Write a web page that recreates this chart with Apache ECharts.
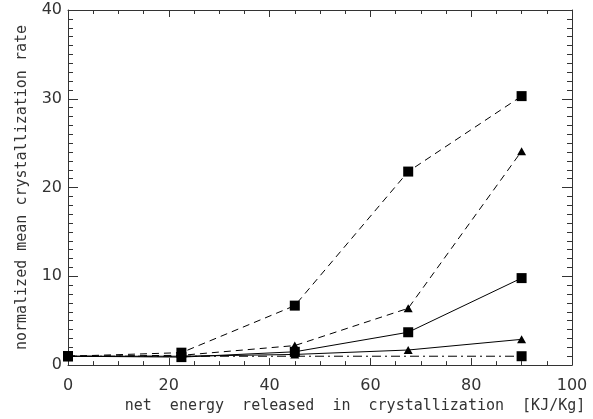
<!DOCTYPE html>
<html lang="en">
  <head>
    <meta charset="UTF-8" />
    <title>crystallization rate</title>
    <style>
      * {
        padding: 0;
        margin: 0;
      }
      body {
        background: #fff;
        overflow: hidden;
      }
      .chart {
        width: 593px;
        height: 419px;
      }
    </style>
    <script src="https://cdn.jsdelivr.net/npm/echarts@6/dist/echarts.min.js"></script>
  </head>
  <body>
    <div class="chart" id="chart"></div>
  </body>
  <script>
    // energy released (KJ/Kg)
    const energy = [0, 22.5, 45, 67.5, 90];
    // the dash-dot reference line only has its two end points marked
    const energyRef = [0, 90];

    // normalized mean crystallization rate
    const squaresDashed = [1, 1.4, 6.7, 21.8, 30.3];
    const trianglesDashed = [1, 1.1, 2.2, 6.4, 24.1];
    const squaresSolid = [1, 0.9, 1.5, 3.7, 9.8];
    const trianglesSolid = [1, 1.0, 1.2, 1.7, 2.9];
    const squaresDashDot = [1, 1];

    const labelFont = "DejaVu Sans";
    const nameFont = "DejaVu Sans Mono";
    const ink = "#333";

    const dom = document.getElementById("chart");
    const myChart = echarts.init(dom);

    function pairs(xs, ys) {
      return xs.map((x, i) => [x, ys[i]]);
    }

    function makeSeries(xs, ys, symbol, lineType) {
      return {
        type: "line",
        data: pairs(xs, ys),
        symbol: symbol === "square" ? "rect" : "triangle",
        symbolSize: symbol === "square" ? 10 : [9, 8],
        showAllSymbol: true,
        itemStyle: { color: "#000" },
        lineStyle: { color: "#000", width: 1, type: lineType },
        animation: false,
        z: 3,
      };
    }

    // shared axis look; ticks point into the plot on all four sides
    const xBase = {
      type: "value",
      min: 0,
      max: 100,
      interval: 20,
      axisLine: { show: true, onZero: false, lineStyle: { color: "#333", width: 1 } },
      axisTick: { show: true, inside: true, length: 7, lineStyle: { color: "#333" } },
      minorTick: { show: true, splitNumber: 4, length: 4, lineStyle: { color: "#333" } },
      splitLine: { show: false },
    };
    const yBase = {
      type: "value",
      min: 0,
      max: 40,
      interval: 10,
      axisLine: { show: true, onZero: false, lineStyle: { color: "#333", width: 1 } },
      axisTick: { show: true, inside: true, length: 10, lineStyle: { color: "#333" } },
      minorTick: { show: true, splitNumber: 10, length: 5, lineStyle: { color: "#333" } },
      splitLine: { show: false },
    };

    const option = {
      backgroundColor: "#fff",
      grid: { left: 68, right: 21, top: 10, bottom: 51 },
      xAxis: [
        Object.assign({}, xBase, {
          position: "bottom",
          name: "net  energy  released  in  crystallization  [KJ/Kg]",
          nameLocation: "middle",
          nameGap: 27,
          // title sits a bit right of the axis centre in the original
          nameTextStyle: { fontFamily: nameFont, fontSize: 15, color: ink, padding: [0, 0, 0, 70] },
          axisLabel: { fontFamily: labelFont, fontSize: 16, color: ink, margin: 13 },
        }),
        Object.assign({}, xBase, {
          position: "top",
          axisLabel: { show: false },
        }),
      ],
      yAxis: [
        Object.assign({}, yBase, {
          position: "left",
          name: "normalized mean crystallization rate",
          nameLocation: "middle",
          nameGap: 38,
          nameTextStyle: { fontFamily: nameFont, fontSize: 15, color: ink },
          axisLabel: { fontFamily: labelFont, fontSize: 16, color: ink, margin: 6 },
        }),
        Object.assign({}, yBase, {
          position: "right",
          axisLabel: { show: false },
        }),
      ],
      series: [
        makeSeries(energy, squaresDashed, "square", [7, 5]),
        makeSeries(energy, trianglesDashed, "triangle", [7, 5]),
        makeSeries(energy, squaresSolid, "square", "solid"),
        makeSeries(energy, trianglesSolid, "triangle", "solid"),
        makeSeries(energyRef, squaresDashDot, "square", [9, 4, 2, 4]),
      ],
    };

    myChart.setOption(option);
  </script>
</html>
